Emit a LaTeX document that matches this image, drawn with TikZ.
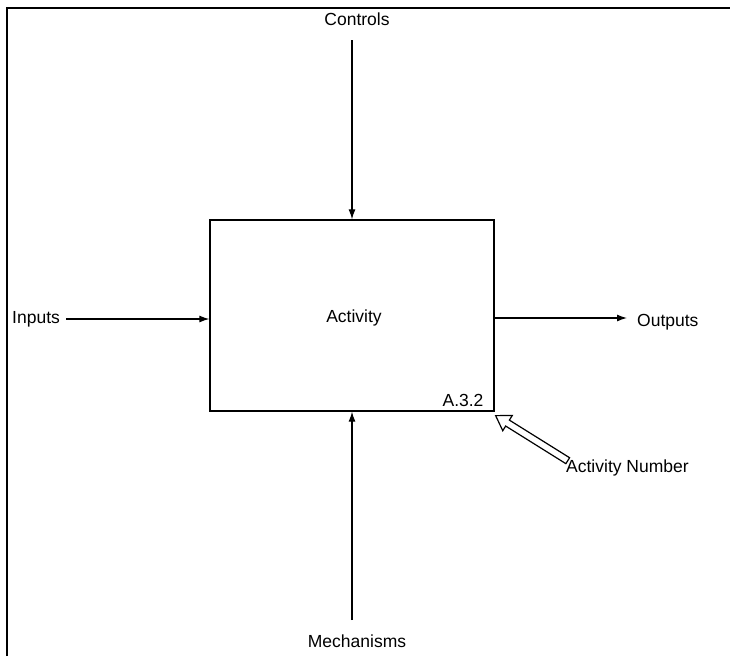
\documentclass[tikz,border=0pt]{standalone}
\usepackage{fontspec}
\setmainfont{Liberation Sans}
\usetikzlibrary{arrows.meta,positioning}

\tikzset{
  lbl/.style={font=\fontsize{17.5}{20}\selectfont, inner sep=1pt},
  flow/.style={-{Latex[length=10pt,width=7pt]}, line width=1.2pt},
}

\begin{document}
\begin{tikzpicture}[x=1pt,y=-1pt]
\useasboundingbox (0,0) rectangle (730,656);

% outer frame (left and top only)
\draw[line width=1.6pt] (7,656) -- (7,8) -- (730,8);

% the activity box
\node[draw, line width=1.3pt, minimum width=284pt, minimum height=191pt,
      inner sep=0pt] (act) at (352,315.5) {};
\node[lbl] (actname) at (354,318) {Activity};
\node[lbl, anchor=south east] (actnum) at ([xshift=-10pt,yshift=4pt]act.south east) {A.3.2};

% labels
\node[lbl] (ctrl) at (357,19) {Controls};
\node[lbl, anchor=west] (inp) at (11,319) {Inputs};
\node[lbl, anchor=west] (outp) at (636,322) {Outputs};
\node[lbl] (mech) at (357,641) {Mechanisms};
\node[lbl, anchor=west] (numlbl) at (565,468) {Activity Number};

\coordinate (ctrltop) at (352,40);
\coordinate (mechbot) at (352,620);
\coordinate (outend) at (627,318);

% arrows
\draw[flow] (ctrltop) -- (act.north);
\draw[flow] (inp.east) ++(5,0) coordinate (inpstart) -- (inpstart -| act.west);
\draw[flow] (act.east |- outend) -- (outend);
\draw[flow] (mechbot) -- (act.south);

% hollow pointer to the activity number
\draw[line width=1.2pt, fill=white, shift={([xshift=1pt,yshift=-4pt]act.south east)}, rotate=-32]
  (0,0) -- (14,-9) -- (14,-3.5) -- (85,-3.5) -- (85,3.5) -- (14,3.5) -- (14,9) -- cycle;
\end{tikzpicture}
\end{document}
